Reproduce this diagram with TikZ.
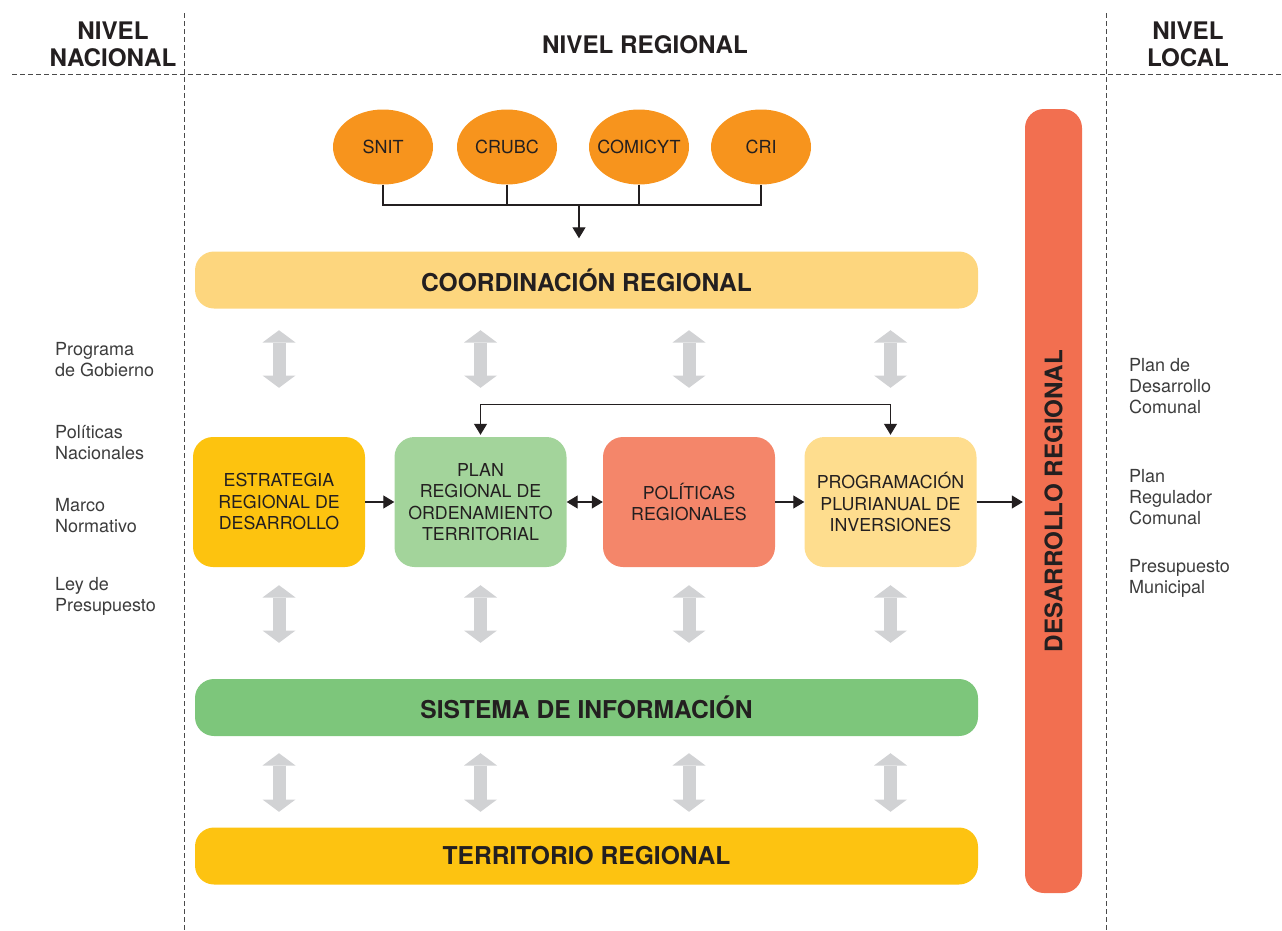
\documentclass[tikz,border=0pt]{standalone}
\usepackage{fontspec}
\setmainfont{TeX Gyre Heros}
\usetikzlibrary{arrows.meta,shapes.geometric}

\definecolor{cEll}{HTML}{F7941D}
\definecolor{cCoord}{HTML}{FDD67E}
\definecolor{cErd}{HTML}{FDC30F}
\definecolor{cProt}{HTML}{A3D49B}
\definecolor{cPol}{HTML}{F4866A}
\definecolor{cPpi}{HTML}{FEDD8E}
\definecolor{cSist}{HTML}{7DC67B}
\definecolor{cTerr}{HTML}{FDC311}
\definecolor{cDesr}{HTML}{F26F50}
\definecolor{cGray}{HTML}{D1D2D4}
\definecolor{cTxt}{HTML}{231F20}
\definecolor{cLbl}{HTML}{3C3C3C}
\definecolor{cDash}{HTML}{4A4A4A}

\begin{document}
\begin{tikzpicture}[x=1pt, y=-1pt, >={Triangle[width=13pt,length=11pt]},
  ell/.style={ellipse, fill=cEll, minimum width=100pt, minimum height=75pt,
    inner xsep=-25pt, inner ysep=-5pt, font=\fontsize{18}{21}\selectfont, text=cTxt},
  bar/.style={rounded corners=19pt, minimum width=783pt, minimum height=57pt, inner sep=0pt,
    font=\bfseries\fontsize{24.6}{28}\selectfont, text=cTxt},
  box/.style={rounded corners=20pt, minimum width=172pt, minimum height=130pt, align=center,
    inner sep=0pt, font=\fontsize{17.8}{21.5}\selectfont, text=cTxt},
  lbl/.style={anchor=west, align=left, inner sep=0pt, font=\fontsize{18}{21}\selectfont, text=cLbl},
  hdr/.style={align=center, inner sep=0pt, font=\bfseries\fontsize{24.2}{27}\selectfont, text=cTxt},
  dsh/.style={cDash, line width=1pt, dash pattern=on 5pt off 3pt},
  conn/.style={cTxt, line width=1.2pt},
  grayarr/.style={cGray, line width=13pt,
    {Triangle[width=33pt,length=12.3pt,line width=0pt]}-{Triangle[width=33pt,length=12.3pt,line width=0pt]}},
]
\useasboundingbox (0,0) rectangle (1282,930);

%Trennlinien
\draw[dsh] (184,13) -- (184,930);
\draw[dsh] (1106,13) -- (1106,930);
\draw[dsh] (12,74) -- (1282,74);

%Kopfzeile
\node[hdr] (hnac) at (113,44) {NIVEL\\NACIONAL};
\node[hdr] (hreg) at (645,45) {NIVEL REGIONAL};
\node[hdr] (hloc) at (1188,44) {NIVEL\\LOCAL};

%Instanzen
\node[ell] (snit) at (383,147) {SNIT};
\node[ell] (crubc) at (507,147) {CRUBC};
\node[ell] (comicyt) at (639,147) {COMICYT};
\node[ell] (cri) at (761,147) {CRI};

%Balken
\node[bar, fill=cCoord] (coord) at (586.5,280) {COORDINACIÓN REGIONAL};
\node[bar, fill=cSist] (sist) at (586.5,707.5) {SISTEMA DE INFORMACIÓN};
\node[bar, fill=cTerr] (terr) at (586.5,856) {TERRITORIO REGIONAL};
\node[fill=cDesr, rounded corners=19pt, minimum width=57pt, minimum height=784pt, inner sep=0pt]
  (desr) at (1053.5,501) {};
\node[rotate=90, inner sep=0pt, font=\bfseries\fontsize{24.2}{28}\selectfont, text=cTxt]
  (desrlbl) at (desr.center) {DESARROLLO REGIONAL};

%Instrumente
\node[box, fill=cErd] (erd) at (279,502) {ESTRATEGIA\\REGIONAL DE\\DESARROLLO};
\node[box, fill=cProt] (prot) at (480.5,502) {PLAN\\REGIONAL DE\\ORDENAMIENTO\\TERRITORIAL};
\node[box, fill=cPol] (polr) at (689,502) {POLÍTICAS\\REGIONALES};
\node[box, fill=cPpi] (ppi) at (890.5,502) {PROGRAMACIÓN\\PLURIANUAL DE\\INVERSIONES};

%Nebentexte
\node[lbl] (prog) at (55,360) {Programa\\de Gobierno};
\node[lbl] (polnac) at (55,443) {Políticas\\Nacionales};
\node[lbl] (marco) at (55,516) {Marco\\Normativo};
\node[lbl] (ley) at (55,596) {Ley de\\Presupuesto};
\node[lbl] (pladeco) at (1129,386) {Plan de\\Desarrollo\\Comunal};
\node[lbl] (prc) at (1129,497) {Plan\\Regulador\\Comunal};
\node[lbl] (presmun) at (1129,578) {Presupuesto\\Municipal};

%Verbindungen
\coordinate (j) at (579,205);
\draw[conn] (snit.south) |- (j) -| (cri.south);
\draw[conn] (crubc.south) -- (crubc.south |- j);
\draw[conn] (comicyt.south) -- (comicyt.south |- j);
\draw[conn, ->, shorten >=13pt] (j) -- (coord.north -| j);

\draw[conn, ->] (erd.east) -- (prot.west);
\draw[conn, <->] (prot.east) -- (polr.west);
\draw[conn, ->] (polr.east) -- (ppi.west);
\draw[conn, ->, shorten >=2pt] (ppi.east) -- (ppi.east -| desr.west);
\draw[conn, <->, shorten <=2pt, shorten >=2pt] (prot.north) -- ++(0,-32) -| (ppi.north);

\foreach \b in {erd,prot,polr,ppi}{
  \draw[grayarr, shorten <=21.5pt, shorten >=49pt] (coord.south -| \b.north) -- (\b.north);
  \draw[grayarr, shorten <=18pt, shorten >=36pt] (\b.south) -- (sist.north -| \b.south);
  \draw[grayarr, shorten <=17pt, shorten >=15.5pt] (sist.south -| \b.south) -- (terr.north -| \b.south);
}
\end{tikzpicture}
\end{document}
